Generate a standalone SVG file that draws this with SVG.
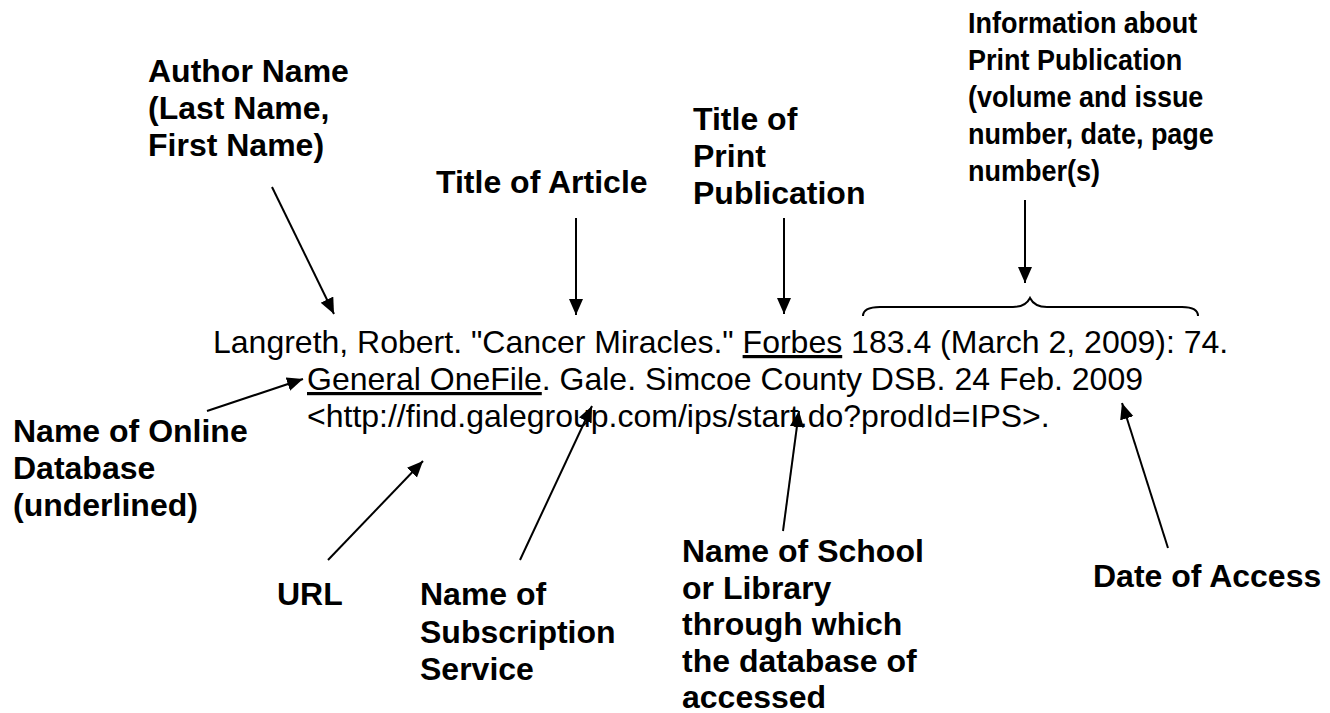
<svg xmlns="http://www.w3.org/2000/svg" width="1330" height="713" viewBox="0 0 1330 713">
  <style>
    .label { font-family: "Liberation Sans", Arial, sans-serif; font-size: 32px; font-weight: bold; fill: #000; }
    .narrow { font-size: 30px; }
    .cite { font-family: "Liberation Sans", Arial, sans-serif; font-size: 32px; fill: #000; }
    .arrow { stroke: #000; stroke-width: 2; fill: none; marker-end: url(#head); }
    .brace { stroke: #000; stroke-width: 2; fill: none; }
  </style>
  <defs>
    <marker id="head" markerUnits="userSpaceOnUse" markerWidth="17" markerHeight="15" refX="16" refY="7" orient="auto">
      <path d="M0,0 L16,7 L0,14 Z" fill="#000"/>
    </marker>
  </defs>
  <rect width="1330" height="713" fill="#fff"/>

  <!-- the citation being annotated -->
  <g id="citation">
    <text class="cite" x="213" y="353">Langreth, Robert. "Cancer Miracles." <tspan text-decoration="underline">Forbes</tspan> 183.4 (March 2, 2009): 74.</text>
    <text class="cite" x="307" y="390"><tspan text-decoration="underline">General OneFile</tspan>. Gale. Simcoe County DSB. 24 Feb. 2009</text>
    <text class="cite" x="307" y="427">&lt;http://find.galegroup.com/ips/start.do?prodId=IPS&gt;.</text>
  </g>

  <!-- labels -->
  <g id="author">
    <text class="label" x="148" y="82">Author Name<tspan x="148" dy="37">(Last Name,</tspan><tspan x="148" dy="37">First Name)</tspan></text>
  </g>
  <g id="article-title">
    <text class="label" x="436" y="193">Title of Article</text>
  </g>
  <g id="publication-title">
    <text class="label" x="693" y="130">Title of<tspan x="693" dy="37">Print</tspan><tspan x="693" dy="37">Publication</tspan></text>
  </g>
  <!-- condensed text box -->
  <g id="publication-info" transform="translate(968 0) scale(0.9 1)">
    <text class="label narrow" x="0" y="33">Information about<tspan x="0" dy="37">Print Publication</tspan><tspan x="0" dy="37">(volume and issue</tspan><tspan x="0" dy="37">number, date, page</tspan><tspan x="0" dy="37">number(s)</tspan></text>
  </g>
  <g id="database">
    <text class="label" x="13" y="442">Name of Online<tspan x="13" dy="37">Database</tspan><tspan x="13" dy="37">(underlined)</tspan></text>
  </g>
  <g id="url">
    <text class="label" x="277" y="605">URL</text>
  </g>
  <g id="service">
    <text class="label" x="420" y="605">Name of<tspan x="420" dy="37.5">Subscription</tspan><tspan x="420" dy="37.5">Service</tspan></text>
  </g>
  <g id="library">
    <text class="label" x="682" y="562">Name of School<tspan x="682" dy="36.6">or Library</tspan><tspan x="682" dy="36.6">through which</tspan><tspan x="682" dy="36.6">the database of</tspan><tspan x="682" dy="36.6">accessed</tspan></text>
  </g>
  <g id="access-date">
    <text class="label" x="1093" y="587">Date of Access</text>
  </g>

  <!-- connectors -->
  <g id="connectors">
    <line class="arrow" x1="272" y1="187" x2="334" y2="314"/>
    <line class="arrow" x1="576" y1="218" x2="576" y2="315"/>
    <line class="arrow" x1="784" y1="218" x2="784" y2="314"/>
    <line class="arrow" x1="1025" y1="200" x2="1025" y2="283"/>
    <path class="brace" d="M863,316 C863,309 870,307 880,307 L1013,307 C1022,307 1027,304 1030,298 C1033,304 1038,307 1047,307 L1182,307 C1192,307 1198,309 1198,316"/>
    <line class="arrow" x1="207" y1="411" x2="303" y2="379"/>
    <line class="arrow" x1="328" y1="560" x2="423" y2="461"/>
    <line class="arrow" x1="520" y1="560" x2="592" y2="406"/>
    <line class="arrow" x1="783" y1="531" x2="799" y2="411"/>
    <line class="arrow" x1="1168" y1="548" x2="1122" y2="403"/>
  </g>
</svg>
